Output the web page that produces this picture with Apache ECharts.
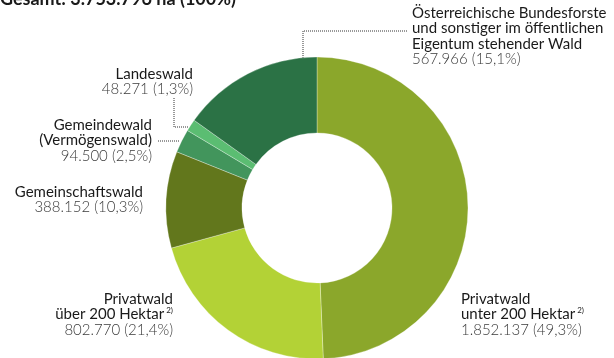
<!DOCTYPE html>
<html>
<head>
<meta charset="utf-8">
<script src="https://cdn.jsdelivr.net/npm/echarts@6/dist/echarts.min.js"></script>
<style>
html,body{margin:0;padding:0;background:#fff;}
#chart{width:614px;height:358px;}
</style>
</head>
<body>
<div id="chart"></div>
<script>
// Categories (clockwise from 12 o'clock)
const names = [
  'Privatwald\nunter 200 Hektar',
  'Privatwald\nüber 200 Hektar',
  'Gemeinschaftswald',
  'Gemeindewald\n(Vermögenswald)',
  'Landeswald',
  'Österreichische Bundesforste\nund sonstiger im öffentlichen\nEigentum stehender Wald'
];
const footnotes = ['2)', '2)', '', '', '', ''];
const values = [1852137, 802770, 388152, 94500, 48271, 567966];
const colors = ['#8ba72b', '#b3d236', '#62771c', '#42955c', '#5bbd72', '#2b7245'];

const total = values.reduce((a, b) => a + b, 0);
const fmtNum = v => String(v).replace(/\B(?=(\d{3})+(?!\d))/g, '.');
const fmtPct = v => (v / total * 100).toFixed(1).replace('.', ',');

// label block anchors: [x, y, align]
const labelPos = [
  [461, 291, 'left'],
  [173, 291, 'right'],
  [143, 184, 'right'],
  [152, 117, 'right'],
  [193, 66, 'right'],
  [412, 5, 'left']
];
const leaderPts = [
  null, null, null,
  [[158, 141], [168, 141], [179, 141]],
  [[174, 98], [174, 127], [189, 127]],
  [[303, 58], [303, 31], [407, 31]]
];

const font = 'Lato, "Open Sans", sans-serif';
const data = names.map((n, i) => ({
  name: n,
  value: values[i],
  itemStyle: { color: colors[i] },
  labelLine: { show: !!leaderPts[i] }
}));

const chart = echarts.init(document.getElementById('chart'), null, { renderer: 'canvas' });
chart.setOption({
  animation: false,
  title: {
    text: 'Gesamt: ' + fmtNum(total) + ' ha (100%)',
    left: 0, top: -10, padding: 0,
    textStyle: { fontFamily: font, fontSize: 18, fontWeight: 'bold', color: '#1a1a1a' }
  },
  series: [{
    type: 'pie',
    center: [317, 208],
    radius: [75, 151],
    startAngle: 90,
    clockwise: true,
    avoidLabelOverlap: false,
    itemStyle: { borderColor: 'rgba(255,255,255,0.6)', borderWidth: 0.5 },
    label: {
      show: true,
      position: 'outside',
      formatter: p => {
        const i = p.dataIndex;
        const sup = footnotes[i] ? '{s|' + footnotes[i] + '}' : '';
        return '{n|' + names[i] + '}' + sup + '\n{v|' + fmtNum(values[i]) + ' (' + fmtPct(values[i]) + '%)}';
      },
      rich: {
        n: { fontFamily: font, fontSize: 15, color: '#1a1a1a', lineHeight: 15.5 },
        s: { fontFamily: font, fontSize: 8, color: '#1a1a1a', lineHeight: 15.5, verticalAlign: 'top', padding: [0, 0, 0, 2] },
        v: { fontFamily: font, fontSize: 15, fontWeight: 300, color: '#3a3a3a', lineHeight: 15.5 }
      }
    },
    labelLine: {
      show: true,
      smooth: false,
      lineStyle: { type: 'dotted', color: '#333', width: 1 }
    },
    labelLayout: p => {
      const i = p.dataIndex;
      const lp = labelPos[i];
      const o = { x: lp[0], y: lp[1], align: lp[2], verticalAlign: 'top' };
      if (leaderPts[i]) o.labelLinePoints = leaderPts[i];
      return o;
    },
    data: data
  }]
});
</script>
</body>
</html>
